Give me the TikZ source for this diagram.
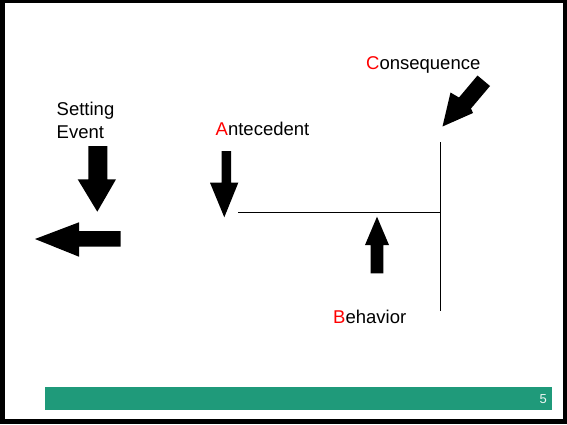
\documentclass[tikz,border=0pt]{standalone}
\usepackage{fontspec}
\setmainfont{Liberation Sans}
\definecolor{barGreen}{HTML}{1F9A7A}
\definecolor{numWhite}{HTML}{EEF7F3}
\tikzset{
  lbl/.style={anchor=base west, inner sep=0pt, font=\fontsize{18.5}{22.6}\selectfont},
  blockarrow/.style={fill=black, draw=none},
  timeline/.style={draw=black, line width=1.2pt}
}
\begin{document}
\begin{tikzpicture}[x=1pt,y=-1pt]
\useasboundingbox (0,0) rectangle (567,424);
% frame
\fill[black] (0,0) rectangle (567,424);
\fill[white] (4.5,3) rectangle (563.3,419.3);
% footer bar
\fill[barGreen] (45,386.5) rectangle (552.3,409.5);
\node[anchor=base east, inner sep=0pt, text=numWhite, font=\fontsize{13}{15}\selectfont] (pg) at (547,403.3) {5};

% labels
\node[lbl] (setting) at (56.5,115.7) {Setting};
\node[lbl] (event) at (56.5,138.3) {Event};
\node[lbl] (ante) at (215.5,135) {\textcolor{red}{A}ntecedent};
\node[lbl] (cons) at (366,69.3) {\textcolor{red}{C}onsequence};
\node[lbl] (beh) at (333,323.3) {\textcolor{red}{B}ehavior};

% timeline
\coordinate (hl) at (238.3,212.3);
\coordinate (hr) at (440.5,212.3);
\coordinate (vt) at (440.5,142.3);
\coordinate (vb) at (440.5,310.5);
\draw[timeline] (hl) -- (hr);
\draw[timeline] (vt) -- (vb);

% setting event arrow (down)
\fill[blockarrow] (88.3,146) -- (107.3,146) -- (107.3,179.3) -- (116,179.3)
  -- (97.3,211.7) -- (77.7,179.3) -- (88.3,179.3) -- cycle;
% left arrow
\fill[blockarrow] (120.7,231) -- (120.7,246.7) -- (79,246.7) -- (79,256.7)
  -- (35,239) -- (79,222.3) -- (79,231) -- cycle;
% antecedent arrow (down)
\fill[blockarrow] (221.7,151) -- (231,151) -- (231,182.7) -- (238.3,182.7)
  -- (224.3,217.3) -- (210,182.7) -- (221.7,182.7) -- cycle;
% behavior arrow (up)
\fill[blockarrow] (370.7,273.3) -- (383.3,273.3) -- (383.3,245) -- (389,245)
  -- (377,216.7) -- (365,245) -- (370.7,245) -- cycle;
% consequence arrow (diagonal)
\fill[blockarrow] (477.5,75.5) -- (490,86) -- (471,108.5) -- (473,113)
  -- (442.5,126.5) -- (450.5,92.5) -- (459,97.5) -- cycle;
\end{tikzpicture}
\end{document}
